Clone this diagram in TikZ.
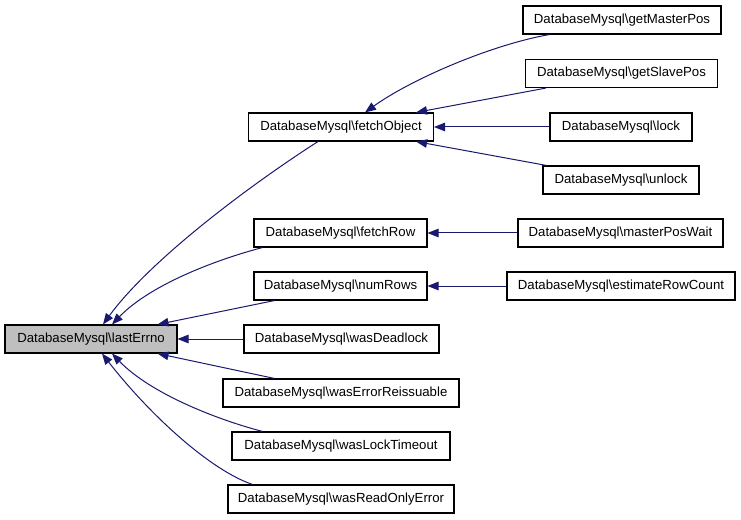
\documentclass[tikz,border=0pt]{standalone}
\usepackage{fontspec}
\setmainfont{Liberation Sans}
\usetikzlibrary{arrows.meta}
\definecolor{edgeblue}{HTML}{191970}
\definecolor{hilite}{HTML}{BFBFBF}
\begin{document}
\begin{tikzpicture}[x=1bp,y=-1bp,
  box/.style={draw=black,line width=1.1bp,minimum height=28bp,inner sep=0pt,
    font=\fontsize{13.2bp}{15bp}\selectfont,fill=white},
  edge/.style={draw=edgeblue,line width=1bp,-{Triangle[length=11bp,width=8.5bp]}}]
\useasboundingbox[fill=white] (0,0) rectangle (741,520);
% nodes
\node[box,fill=hilite,minimum width=172bp] (le) at (91,339) {DatabaseMysql\textbackslash lastErrno};
\node[box,minimum width=185bp] (fo) at (341,127) {DatabaseMysql\textbackslash fetchObject};
\node[box,minimum width=173bp] (fr) at (340.5,233) {DatabaseMysql\textbackslash fetchRow};
\node[box,minimum width=173bp] (nr) at (340.5,286) {DatabaseMysql\textbackslash numRows};
\node[box,minimum width=195bp] (wd) at (341.5,339) {DatabaseMysql\textbackslash wasDeadlock};
\node[box,minimum width=236bp] (wer) at (341,393) {DatabaseMysql\textbackslash wasErrorReissuable};
\node[box,minimum width=218bp] (wlt) at (341,446) {DatabaseMysql\textbackslash wasLockTimeout};
\node[box,minimum width=226bp] (wro) at (341,499) {DatabaseMysql\textbackslash wasReadOnlyError};
\node[box,minimum width=198bp] (gmp) at (622,20) {DatabaseMysql\textbackslash getMasterPos};
\node[box,minimum width=192bp] (gsp) at (621.5,73.5) {DatabaseMysql\textbackslash getSlavePos};
\node[box,minimum width=142bp] (lk) at (621,127) {DatabaseMysql\textbackslash lock};
\node[box,minimum width=156bp] (ulk) at (621,180) {DatabaseMysql\textbackslash unlock};
\node[box,minimum width=205bp] (mpw) at (620.5,233) {DatabaseMysql\textbackslash masterPosWait};
\node[box,minimum width=228bp] (erc) at (621,286) {DatabaseMysql\textbackslash estimateRowCount};
% edges to lastErrno
\draw[edge] ([xshift=-23bp]fo.south) .. controls (250,185) and (150,260) .. ([xshift=12bp]le.north);
\draw[edge] ([xshift=9bp]fr.south west) .. controls (215,260) and (150,285) .. ([xshift=21bp]le.north);
\draw[edge] ([xshift=21bp]nr.south west) -- ([xshift=-20bp]le.north east);
\draw[edge] (wd.west) -- (le.east);
\draw[edge] ([xshift=52bp]wer.north west) -- ([xshift=-20bp]le.south east);
\draw[edge] ([xshift=31bp]wlt.north west) .. controls (215,419) and (150,393) .. ([xshift=21bp]le.south);
\draw[edge] ([xshift=25bp]wro.north west) .. controls (210,470) and (150,415) .. ([xshift=11bp]le.south);
% edges to fetchObject
\draw[edge] ([xshift=27bp]gmp.south west) .. controls (490,45) and (410,80) .. ([xshift=24bp]fo.north);
\draw[edge] ([xshift=21bp]gsp.south west) -- ([xshift=-18bp]fo.north east);
\draw[edge] (lk.west) -- (fo.east);
\draw[edge] ([xshift=4bp]ulk.north west) -- ([xshift=-18bp]fo.south east);
% others
\draw[edge] (mpw.west) -- (fr.east);
\draw[edge] (erc.west) -- (nr.east);
\end{tikzpicture}
\end{document}
